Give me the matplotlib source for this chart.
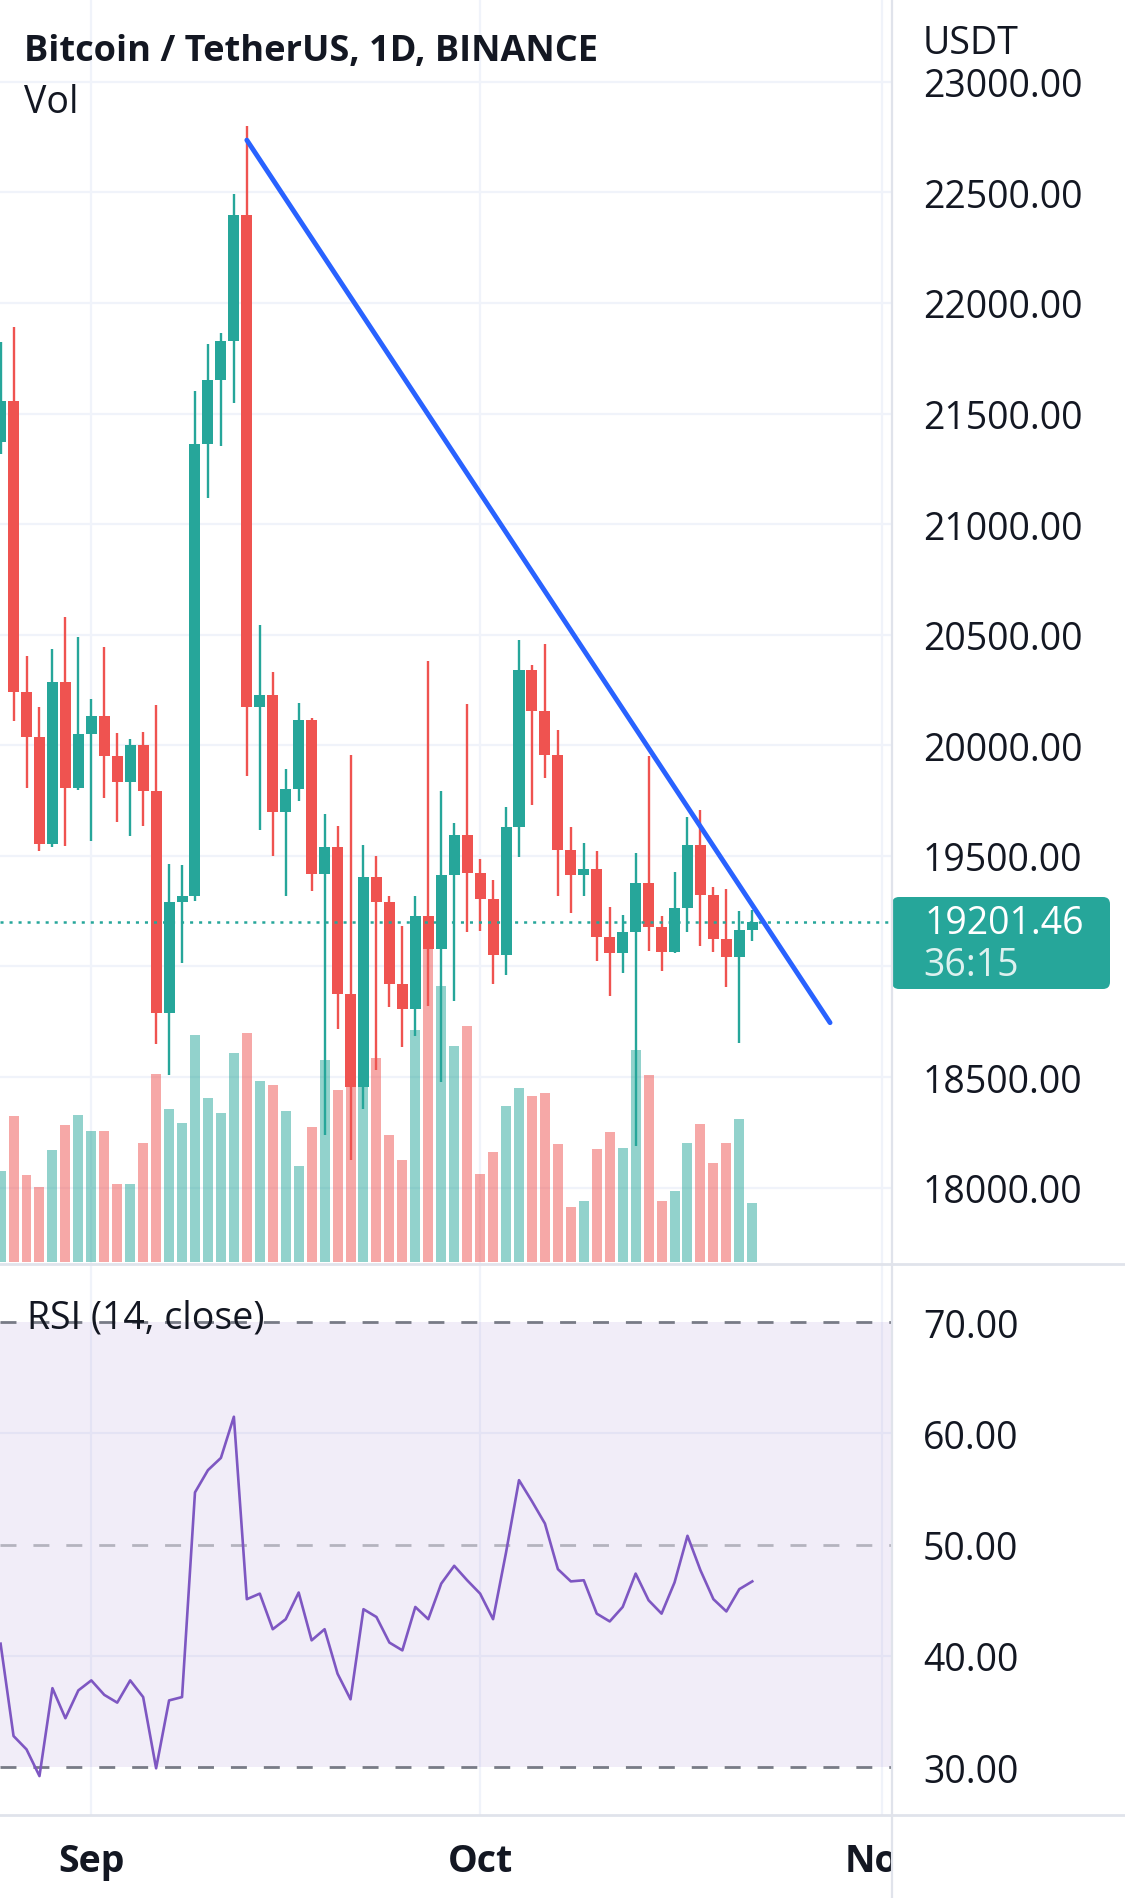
import matplotlib
matplotlib.use("Agg")
import matplotlib.pyplot as plt
import matplotlib.transforms as mtransforms
from matplotlib.patches import FancyBboxPatch, Rectangle
from matplotlib.lines import Line2D
import numpy as np
import pandas as pd

plt.rcParams['font.family'] = ['Open Sans', 'DejaVu Sans']
plt.rcParams['lines.scale_dashes'] = False

# ---------------- data ----------------
dates = pd.date_range('2022-08-25', '2022-10-22', freq='D')
opens = [21370, 21558, 20240, 20036, 19554, 20285, 19808,
         20051, 20134, 19950, 19833, 20001, 19795, 18788, 19290, 19317, 21362,
         21651, 21826, 22397, 20172, 20227, 19700, 19802, 20114, 19418, 19539,
         18876, 18456, 19403, 19290, 18921, 18808, 19227, 19079, 19414, 19595,
         19421, 19305, 19052, 19629, 20340, 20156, 19958, 19528, 19415, 19441,
         19132, 19060, 19155, 19376, 19177, 19067, 19263, 19549, 19325, 19124,
         19042, 19165]
highs = [21822, 21890, 20405, 20172, 20435, 20579, 20488,
         20209, 20443, 20056, 20029, 20059, 20184, 19463, 19459, 21603, 21814,
         21864, 22492, 22798, 20544, 20330, 19893, 20190, 20125, 19689, 19637,
         19956, 19549, 19501, 19317, 19184, 19317, 20383, 19792, 19647, 20187,
         19486, 19392, 19720, 20476, 20363, 20458, 20069, 19629, 19558, 19524,
         19268, 19234, 19513, 19950, 19227, 19426, 19674, 19708, 19358, 19350,
         19252, 19255]
lows = [21317, 20111, 19806, 19524, 19540, 19543, 19800,
        19569, 19760, 19655, 19589, 19637, 18650, 18510, 19014, 19295, 21117,
        21354, 21546, 19863, 19618, 19501, 19320, 19750, 19340, 18238, 18717,
        18127, 18358, 18534, 18816, 18635, 18687, 18823, 18480, 18845, 19157,
        19162, 18921, 18963, 19494, 19732, 19852, 19320, 19240, 19320, 19024,
        18865, 18969, 18189, 19071, 18978, 19060, 19155, 19094, 19067, 18906,
        18653, 19117]
closes = [21558, 20240, 20036, 19554, 20285, 19808, 20051,
          20134, 19950, 19833, 20001, 19795, 18788, 19290, 19317, 21362, 21651,
          21826, 22397, 20172, 20227, 19700, 19802, 20114, 19418, 19539, 18876,
          18456, 19403, 19290, 18921, 18808, 19227, 19079, 19414, 19595, 19421,
          19305, 19052, 19629, 20340, 20156, 19958, 19528, 19415, 19441, 19132,
          19060, 19155, 19376, 19177, 19067, 19263, 19549, 19325, 19124, 19042,
          19165, 19201.46]
volumes_k = [146, 234, 140, 120, 180, 220, 236,
             210, 210, 125, 125, 191, 302, 245, 224, 364, 263,
             239, 336, 367, 290, 284, 242, 154, 216, 324, 276,
             344, 304, 328, 204, 164, 373, 509, 442, 346, 378,
             141, 176, 250, 279, 266, 272, 189, 88, 98, 181,
             208, 183, 340, 300, 98, 114, 191, 221, 159, 191,
             229, 95]
rsi_values = [41.1, 32.8, 31.6, 29.2, 37.1, 34.4, 36.9,
              37.8, 36.5, 35.8, 37.8, 36.3, 29.9, 36.0, 36.3, 54.7, 56.7,
              57.8, 61.5, 45.1, 45.6, 42.4, 43.3, 45.7, 41.4, 42.4, 38.4,
              36.1, 44.2, 43.5, 41.2, 40.5, 44.4, 43.3, 46.5, 48.1, 46.8,
              45.6, 43.3, 49.3, 55.8, 53.9, 51.9, 47.8, 46.7, 46.8, 43.8,
              43.1, 44.4, 47.4, 45.0, 43.8, 46.6, 50.8, 47.7, 45.1, 44.0,
              46.0, 46.7]
price_ticks = [18000, 18500, 19000, 19500, 20000, 20500, 21000, 21500, 22000, 22500, 23000]
rsi_ticks = [30, 40, 50, 60, 70]
month_dates = ['2022-09-01', '2022-10-01', '2022-11-01']
month_labels = ['Sep', 'Oct', 'Nov']
last_price = 19201.46
countdown = '36:15'
trend_dates = ['2022-09-13', '2022-10-28']
trend_prices = [22736, 18746]

# ---------------- style ----------------
UP, DOWN = '#26A69A', '#EF5350'
GRID, SEP, TEXT = '#F0F3FA', '#E0E3EB', '#131722'
FS = 27

W, H, DPI = 1125, 1899, 100
fig = plt.figure(figsize=(W / DPI, H / DPI), dpi=DPI, facecolor='white')

PR = 892          # right edge of plotting panes (px)
P_TOP, P_BOT = 0, 1265
R_TOP, R_BOT = 1265, 1816
LABEL_X = 923
PLIM = (17655, 23374)


def rect(top, bot):
    return [0, 1 - bot / H, PR / W, (bot - top) / H]


ref = pd.Timestamp('2022-09-01')
x = np.array((dates - ref).days, dtype=float)
mx = np.array([(pd.Timestamp(d) - ref).days for d in month_dates], dtype=float)
tx = np.array([(pd.Timestamp(d) - ref).days for d in trend_dates], dtype=float)
XLIM = (-7.045, 61.78)
up = np.array(closes) >= np.array(opens)
colors = np.where(up, UP, DOWN)

ax_vol = fig.add_axes(rect(P_TOP, P_BOT))
ax = fig.add_axes(rect(P_TOP, P_BOT))
ax_rsi = fig.add_axes(rect(R_TOP, R_BOT))
ax.patch.set_visible(False)
for a in (ax_vol, ax, ax_rsi):
    for s in a.spines.values():
        s.set_visible(False)
    a.set_xlim(*XLIM)
    a.tick_params(axis='x', bottom=False, labelbottom=False)

# grid (under volume)
for m in mx:
    ax_vol.axvline(m, color=GRID, lw=1.6, zorder=0)
trans = mtransforms.blended_transform_factory(ax_vol.transAxes, ax.transData)
for p in price_ticks:
    ax_vol.add_line(Line2D([0, 1], [p, p], transform=trans, color=GRID, lw=1.6, zorder=0))

# volume
ax_vol.bar(x, volumes_k, width=0.77, color=colors, alpha=0.5, linewidth=0, zorder=1)
ax_vol.set_ylim(-2.7, 2024)
ax_vol.set_yticks([])
ax_vol.tick_params(axis='y', left=False, labelleft=False)

# candles
o = np.array(opens); c = np.array(closes)
ax.vlines(x, lows, highs, colors=colors, lw=1.7, zorder=2)
ax.bar(x, np.abs(c - o), bottom=np.minimum(o, c), width=0.85, color=colors, linewidth=0, zorder=3)
ax.axhline(last_price, color=UP, lw=1.8, linestyle=(0, (2.2, 4.3)), zorder=4)
ax.plot(tx, trend_prices, color='#2962FF', lw=3.5, solid_capstyle='round', zorder=6)
ax.set_ylim(*PLIM)
ax.yaxis.tick_right()
ax.set_yticks(price_ticks)

# price-scale labels; the one under the last-price box is hidden (as on the reference)
BOX_TOP, BOX_BOT = 898, 990
def price_to_px(p):
    return P_TOP + (PLIM[1] - p) / (PLIM[1] - PLIM[0]) * (P_BOT - P_TOP)
labels = []
for p in price_ticks:
    yp = price_to_px(p)
    labels.append('' if BOX_TOP - 12 < yp < BOX_BOT + 12 else f'{p:.2f}')
ax.set_yticklabels(labels)
ax.tick_params(axis='y', length=0, pad=(LABEL_X - PR) * 0.72, labelsize=FS, labelcolor=TEXT)

# RSI pane
for m in mx:
    ax_rsi.axvline(m, color=GRID, lw=1.6, zorder=0)
for g in (40, 60):
    ax_rsi.axhline(g, color=GRID, lw=1.6, zorder=0)
ax_rsi.axhspan(30, 70, color=(126 / 255, 87 / 255, 194 / 255, 0.1), lw=0, zorder=1)
for lvl, al in ((70, 1.0), (50, 0.5), (30, 1.0)):
    ax_rsi.axhline(lvl, color='#787B86', alpha=al, lw=2.0, linestyle=(0, (11.5, 12.2)), zorder=2)
ax_rsi.plot(x, rsi_values, color='#7E57C2', lw=1.9, zorder=3)
ax_rsi.set_ylim(25.7, 75.23)
ax_rsi.yaxis.tick_right()
ax_rsi.set_yticks(rsi_ticks)
ax_rsi.set_yticklabels([f'{v:.2f}' for v in rsi_ticks])
ax_rsi.tick_params(axis='y', length=0, pad=(LABEL_X - PR) * 0.72, labelsize=FS, labelcolor=TEXT)


def ftext(px, py, s, **kw):
    return fig.text(px / W, 1 - py / H, s, **kw)


# texts
ftext(24, 52, 'Bitcoin / TetherUS, 1D, BINANCE', fontsize=26, fontweight='bold', color=TEXT, va='center')
ftext(24, 103, 'Vol', fontsize=FS, color=TEXT, va='center')
ftext(27, 1319, 'RSI (14, close)', fontsize=FS, color=TEXT, va='center', zorder=5)
ftext(LABEL_X, 44, 'USDT', fontsize=FS, color=TEXT, va='center')
for m, lab in zip(mx, month_labels):
    xp = (m - XLIM[0]) / (XLIM[1] - XLIM[0]) * PR
    ftext(xp, 1862, lab, fontsize=FS, fontweight='bold', color=TEXT, ha='center', va='center')

ident = mtransforms.IdentityTransform()
# cover for the time labels beyond the price scale border
fig.add_artist(Rectangle((PR, 0), W - PR, H - R_BOT, transform=ident, fc='white', ec='none', zorder=6))

# last price box
box = FancyBboxPatch((PR, H - BOX_BOT), 218, BOX_BOT - BOX_TOP, boxstyle='round,pad=0,rounding_size=7',
                     transform=ident, fc=UP, ec='none', zorder=7)
fig.add_artist(box)
ftext(925, 924, f'{last_price:.2f}', fontsize=FS, color='white', va='center', zorder=8)
ftext(923, 966, countdown, fontsize=FS, color='#DDF1EF', va='center', zorder=8)

# separators
fig.add_artist(Line2D([PR, PR], [0, H], transform=ident, color=SEP, lw=1.6, zorder=9))
for yy in (P_BOT, R_BOT):
    fig.add_artist(Line2D([0, W], [H - yy, H - yy], transform=ident, color=SEP, lw=2.0, zorder=9))

fig.savefig('out.png', dpi=DPI, facecolor='white')
